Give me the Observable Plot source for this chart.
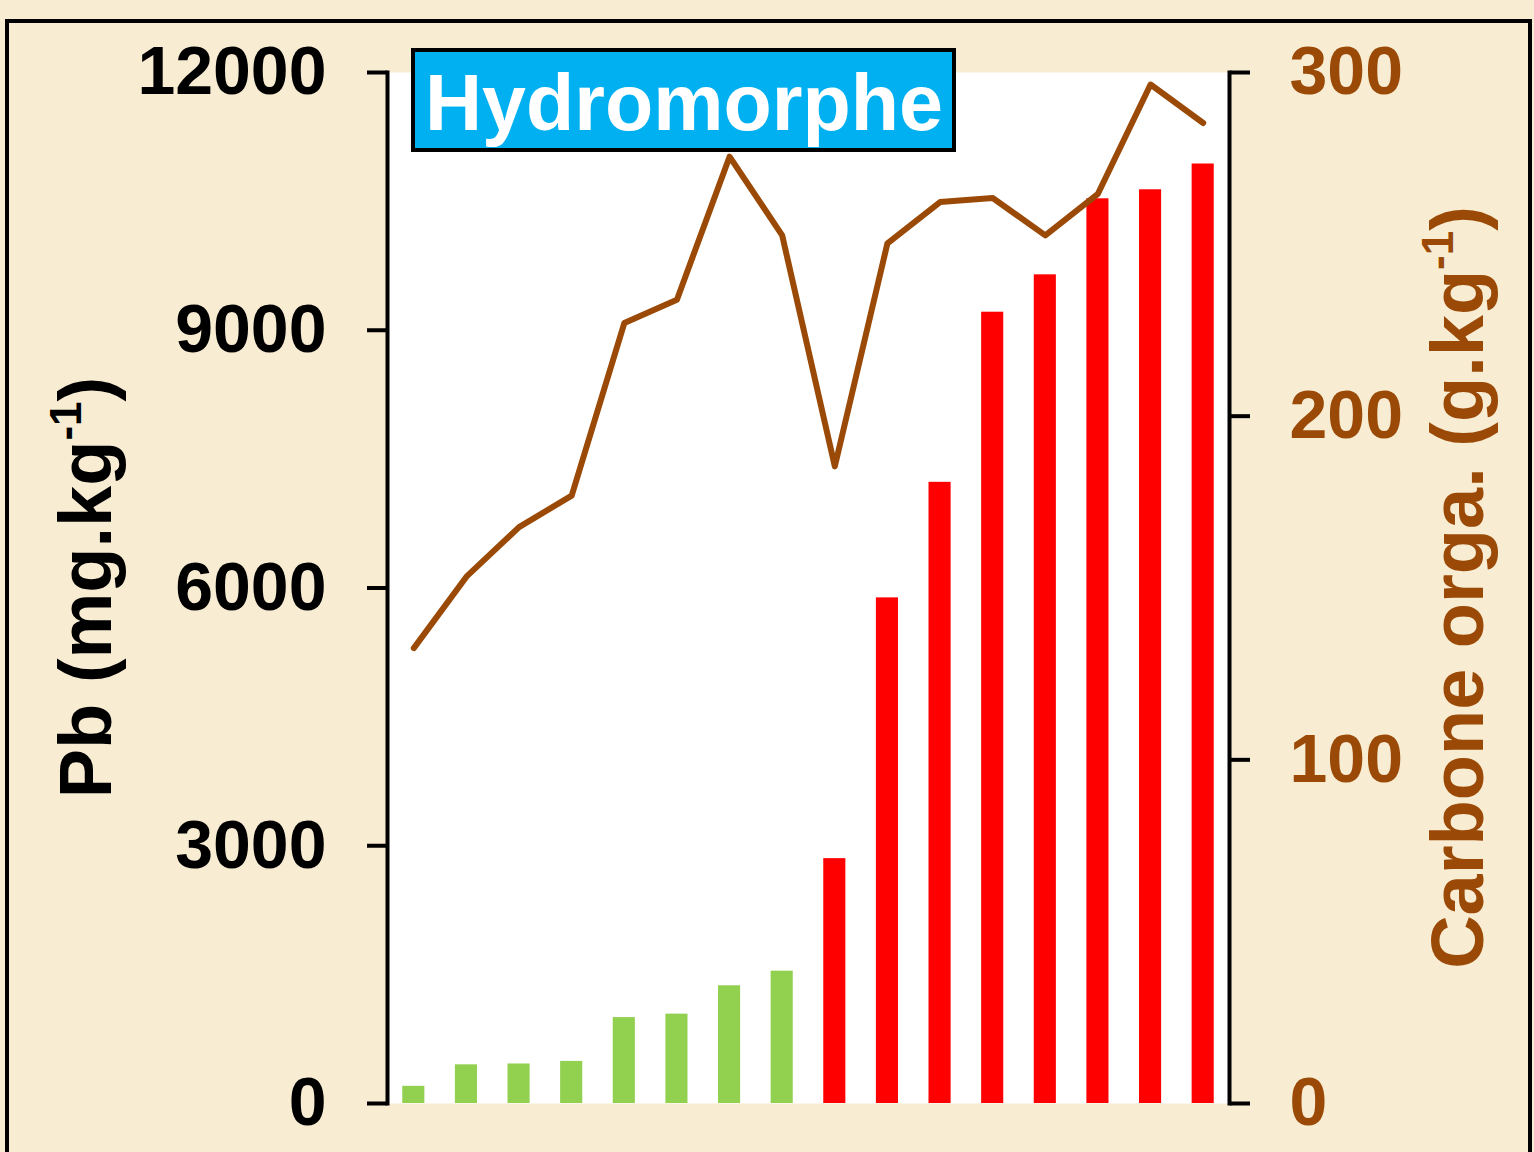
<!DOCTYPE html>
<html><head><meta charset="utf-8">
<script src="https://cdn.jsdelivr.net/npm/d3@7"></script>
<script src="https://cdn.jsdelivr.net/npm/@observablehq/plot@0.6"></script>
<style>
html,body{margin:0;padding:0;background:#F8ECD3;}
#wrap{position:relative;width:1534px;height:1152px;overflow:hidden;background:#F8ECD3;}
#chart svg{display:block;}
#border{position:absolute;left:5px;top:19px;width:1519px;height:1140px;border:4px solid #000;pointer-events:none;}
</style></head>
<body><div id="wrap"><div id="chart"></div><div id="border"></div></div>
<script>
// ---- data ----
const samples = ["1","2","3","4","5","6","7","8","9","10","11","12","13","14","15","16"];
const pb = [200, 450, 460, 490, 1000, 1040, 1370, 1540, 2850, 5885, 7230, 9210, 9645, 10530, 10635, 10935];
const carbone = [132.5, 153.3, 167.7, 176.9, 227.1, 233.9, 275.5, 252.6, 185.4, 250.3, 262.3, 263.5, 252.6, 264.7, 296.5, 285.3];
const groups = ["faible","faible","faible","faible","faible","faible","faible","faible","fort","fort","fort","fort","fort","fort","fort","fort"];
const groupNames = ["faible","fort"];
const groupColors = ["#92D050","#FF0000"];
const pbTicks = [0, 3000, 6000, 9000, 12000];
const carboneTicks = [0, 100, 200, 300];
const pbMax = 12000, carboneMax = 300;
const labelText = "Hydromorphe";

const k = pbMax / carboneMax;
const data = samples.map((s, i) => ({sample: s, pb: pb[i], c: carbone[i], g: groups[i]}));
const brown = "#9A4A06";

const W = 1534, H = 1152;
const mL = 387, mR = 305, mT = 72, mB = 49;

const plot = Plot.plot({
  width: W, height: H,
  marginLeft: mL, marginRight: mR, marginTop: mT, marginBottom: mB,
  style: {background: "transparent", fontFamily: "'Liberation Sans', Arial, sans-serif", fontSize: "68px", fontWeight: "bold", color: "black"},
  x: {domain: samples, paddingInner: 0.58, paddingOuter: 0.29, round: false, axis: null},
  y: {domain: [0, pbMax], axis: null},
  color: {domain: groupNames, range: groupColors},
  marks: [
    Plot.frame({fill: "white", stroke: "none"}),
    Plot.barY(data, {x: "sample", y: "pb", fill: "g"}),
    Plot.line(data, {x: "sample", y: d => d.c * k, stroke: brown, strokeWidth: 6, strokeLinejoin: "round", strokeLinecap: "round"}),
    Plot.axisY({anchor: "left", ticks: pbTicks, tickSize: 20, tickPadding: 41, strokeWidth: 4, stroke: "black", fill: "black", tickFormat: d3.format("d"), label: null}),
    Plot.axisY({anchor: "right", ticks: carboneTicks.map(v => v * k), tickSize: 20, tickPadding: 40, strokeWidth: 4, stroke: "black", fill: brown, tickFormat: d => d3.format("d")(d / k), label: null}),
    Plot.frame({anchor: "left", stroke: "black", strokeWidth: 4}),
    Plot.frame({anchor: "right", stroke: "black", strokeWidth: 4})
  ]
});
document.getElementById("chart").appendChild(plot);

const svg = d3.select(plot);
const yMid = (mT + (H - mB)) / 2;

function addTitle(x, parts, color) {
  const t = svg.append("text")
    .attr("transform", `translate(${x},${yMid}) rotate(-90)`)
    .attr("text-anchor", "middle")
    .attr("fill", color)
    .style("font-family", "'Liberation Sans', Arial, sans-serif")
    .style("font-weight", "bold")
    .style("font-size", "74px");
  t.append("tspan").text(parts[0]);
  t.append("tspan").attr("font-size", "44px").attr("dy", -30).text(parts[1]);
  t.append("tspan").attr("dy", 30).text(parts[2]);
}
addTitle(111, ["Pb (mg.kg", "-1", ")"], "black");
addTitle(1483, ["Carbone orga. (g.kg", "-1", ")"], brown);

// annotation box
const g = svg.append("g");
g.append("rect").attr("x", 413).attr("y", 50).attr("width", 541).attr("height", 100)
  .attr("fill", "#00B0F0").attr("stroke", "black").attr("stroke-width", 4);
g.append("text").attr("x", 684).attr("y", 130).attr("text-anchor", "middle")
  .attr("fill", "white")
  .style("font-family", "'Liberation Sans', Arial, sans-serif")
  .style("font-weight", "bold").style("font-size", "79px")
  .text(labelText);
</script>
</body></html>
